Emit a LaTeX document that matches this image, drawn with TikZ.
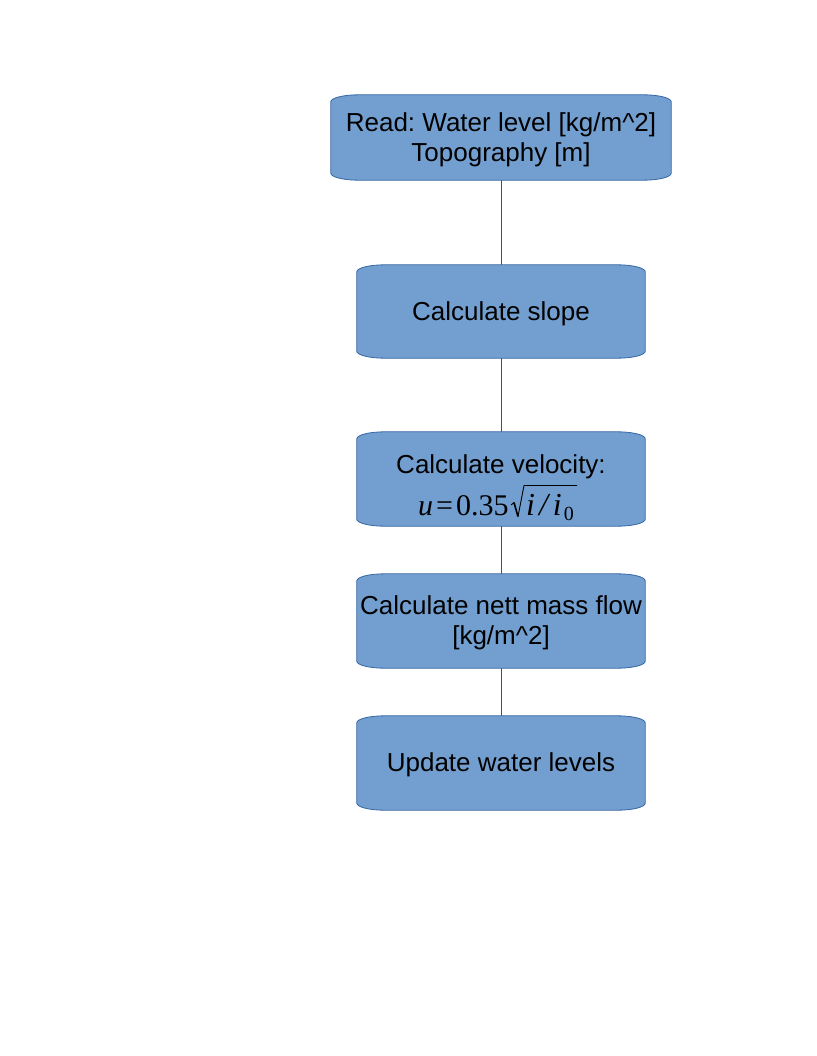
\documentclass[tikz,border=0pt]{standalone}
\usepackage{fontspec}
\setmainfont{Liberation Sans}
\newfontfamily\serifmath{Liberation Serif}
\usetikzlibrary{calc}
\frenchspacing
\definecolor{boxfill}{HTML}{729FCF}
\definecolor{boxline}{HTML}{3465A4}
\definecolor{conline}{HTML}{3B5270}
\tikzset{
  stepbox/.style={rectangle, inner sep=0pt, align=center, text=black,
    font=\fontsize{26}{30}\selectfont},
  formula/.style={inner sep=0pt, text=black, font=\fontsize{30}{30}\serifmath},
  conn/.style={draw=conline, line width=0.8pt},
  bshape/.style={fill=boxfill, draw=boxline, line width=0.8pt},
}
\newcommand\drawbox[1]{%
  \path[bshape] ($(#1.north west)+(0,-7)$)
    arc[start angle=180, end angle=90, x radius=28, y radius=7]
    -- ($(#1.north east)+(-28,0)$)
    arc[start angle=90, end angle=0, x radius=28, y radius=7]
    -- ($(#1.south east)+(0,7)$)
    arc[start angle=0, end angle=-90, x radius=28, y radius=7]
    -- ($(#1.south west)+(28,0)$)
    arc[start angle=-90, end angle=-180, x radius=28, y radius=7]
    -- cycle;}
\begin{document}
\begin{tikzpicture}[x=1pt,y=1pt]
\useasboundingbox (0,0) rectangle (816,-1056);
% box geometry nodes
\node[stepbox, minimum width=340, minimum height=85] (b1) at (501,-137.5) {};
\node[stepbox, minimum width=288, minimum height=93] (b2) at (501,-311.5) {};
\node[stepbox, minimum width=288, minimum height=94] (b3) at (501,-479) {};
\node[stepbox, minimum width=288, minimum height=94] (b4) at (501,-621) {};
\node[stepbox, minimum width=288, minimum height=94] (b5) at (501,-763) {};
% connectors
\draw[conn] (b1.south) -- (b2.north);
\draw[conn] (b2.south) -- (b3.north);
\draw[conn] (b3.south) -- (b4.north);
\draw[conn] (b4.south) -- (b5.north);
% shapes
\drawbox{b1}\drawbox{b2}\drawbox{b3}\drawbox{b4}\drawbox{b5}
% texts
\node[stepbox] (t1) at ($(b1)+(0,-2)$) {Read: Water level [kg/m\^{}2]\\Topography [m]};
\node[stepbox] (t2) at ($(b2)+(0,-2)$) {Calculate slope};
\node[stepbox] (t3a) at (501,-467) {Calculate velocity:};
\node[formula, anchor=base west] (t3b) at (418,-515)
  {{\itshape u}\kern3pt=\kern3pt0.35};
\node[formula, anchor=base west, font=\fontsize{32}{32}\serifmath] (t3c) at (524,-515)
  {\kern2pt{\itshape i}\kern4pt{\itshape /}\kern5pt{\itshape i}\kern2pt\raisebox{-5pt}{\fontsize{20}{20}\selectfont 0}\kern3pt};
% radical sign
\draw[line width=0.9pt, line join=miter] (511,-505) -- (514,-502.5);
\draw[line width=1.6pt] (514,-502.5) -- (518,-516.5);
\draw[line width=0.9pt, line join=miter] (518,-516.5) -- (524,-485.5) -- (t3c.east |- 0,-485.5);
\node[stepbox] (t4) at ($(b4)+(0,-2)$) {Calculate nett mass flow\\{}[kg/m\^{}2]};
\node[stepbox] (t5) at ($(b5)+(0,-2)$) {Update water levels};
\end{tikzpicture}
\end{document}
